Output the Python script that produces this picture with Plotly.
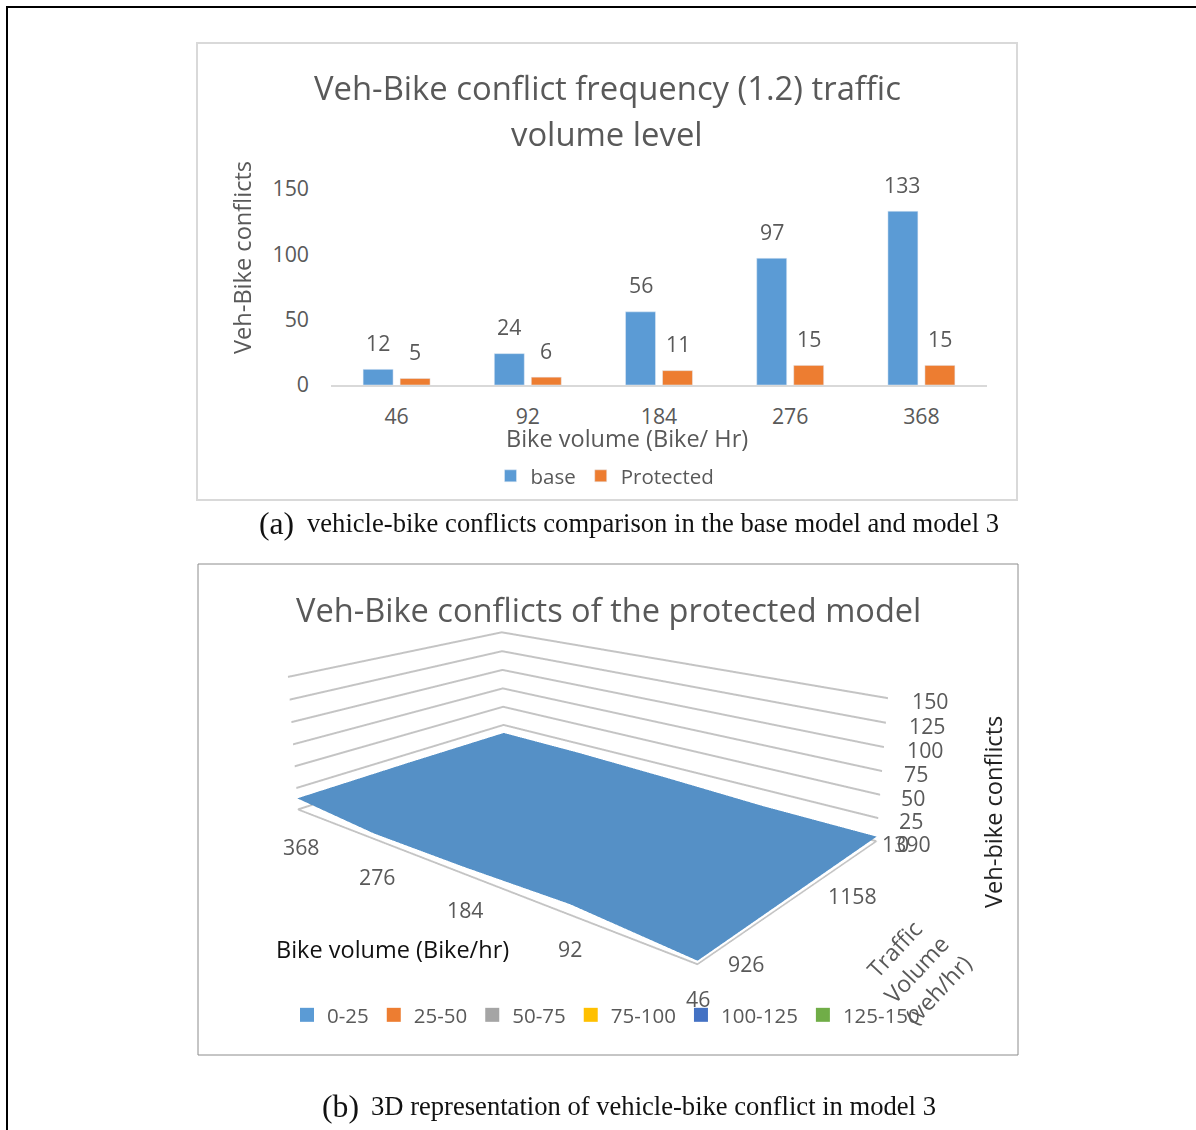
import plotly.graph_objects as go

W, H = 1196, 1130
FONT = "Open Sans"
GREY = "#595959"

# ---- panel (a) data
bike_volume = ["46", "92", "184", "276", "368"]
base_conflicts = [12, 24, 56, 97, 133]
protected_conflicts = [5, 6, 11, 15, 15]

# ---- panel (b) data
traffic_volume = ["926", "1158", "1390"]
surface_926 = [3, 10, 7, 6, 13]
surface_1158 = [4, 6, 11, 15, 14]
surface_1390 = [5, 6, 10, 13, 14]
band_names = ["0-25", "25-50", "50-75", "75-100", "100-125", "125-150"]
band_colors = ["#5B9BD5", "#ED7D31", "#A5A5A5", "#FFC000", "#4472C4", "#70AD47"]
z_ticks = ["150", "125", "100", "75", "50", "25", "0"]


def px(x):
    return x / W


def py(y):
    return 1 - y / H


def label(x, y, text, size=21.3, color=GREY, family=FONT, angle=0, **kw):
    return dict(x=px(x), y=py(y), xref="paper", yref="paper", text=text, showarrow=False,
                font=dict(size=size, color=color, family=family), textangle=angle,
                xanchor="center", yanchor="middle", **kw)


fig = go.Figure()
fig.add_bar(x=bike_volume, y=base_conflicts, name="base", marker_color=band_colors[0])
fig.add_bar(x=bike_volume, y=protected_conflicts, name="Protected", marker_color=band_colors[1])

# legend entries of panel (b)
for name, color in zip(band_names, band_colors):
    fig.add_scatter(x=[None], y=[None], mode="markers", name=name, legend="legend2",
                    marker=dict(symbol="square", size=14, color=color))

# band-coloured surface
scale = []
for i, c in enumerate(band_colors):
    scale += [[i / 6, c], [(i + 1) / 6, c]]
fig.add_surface(x=list(range(len(bike_volume))), y=list(range(len(traffic_volume))),
                z=[surface_926, surface_1158, surface_1390],
                colorscale=scale, cmin=0, cmax=150, showscale=False, opacity=1,
                lighting=dict(ambient=0.93, diffuse=0.14, specular=0, roughness=1, fresnel=0),
                lightposition=dict(x=200, y=-1000, z=500),
                contours=dict(x=dict(highlight=False), y=dict(highlight=False), z=dict(highlight=False)),
                scene="scene")

ann = [
    label(607, 88, "Veh-Bike conflict frequency (1.2) traffic", size=32.8),
    label(607, 133, "volume level", size=32.8),
    label(242, 258, "Veh-Bike conflicts", size=23.6, angle=-90),
    label(627, 438, "Bike volume (Bike/ Hr)", size=23.5),
    label(608, 609, "Veh-Bike conflicts of the protected model", size=32.6),
    label(993, 812, "Veh-bike conflicts", size=23.6, color="#222222", angle=-90),
    label(392, 949, "Bike volume (Bike/hr)", size=23.5, color="#111111"),
    label(916, 969, "Traffic<br>Volume<br>(veh/hr)", size=23, angle=-47),
    label(276, 523, "(a)", size=31.7, color="#111111", family="Liberation Serif"),
    label(653, 523, "vehicle-bike conflicts comparison in the base model and model 3", size=26.6, color="#111111", family="Liberation Serif"),
    label(340, 1106, "(b)", size=31.7, color="#111111", family="Liberation Serif"),
    label(653, 1106, "3D representation of vehicle-bike conflict in model 3", size=26.6, color="#111111", family="Liberation Serif"),
]
# data labels of panel (a)
for vals, shift in ((base_conflicts, -18.5), (protected_conflicts, 18.5)):
    for i, v in enumerate(vals):
        ann.append(dict(x=i, y=v, xref="x", yref="y", text=str(v), showarrow=False, xshift=shift, yshift=27,
                        yanchor="middle", font=dict(size=21.3, color=GREY, family=FONT)))
# axis labels of panel (b), kept where the reference prints them
for t, pos in zip(z_ticks, [(930, 700), (927, 725), (925, 749), (916, 773), (913, 797), (911, 820), (903, 843)]):
    ann.append(label(pos[0], pos[1], t))
for t, pos in zip(traffic_volume, [(746, 963), (852, 895), (906, 843)]):
    ann.append(label(pos[0], pos[1], t))
for t, pos in zip(bike_volume, [(698, 998), (570, 948), (465, 909), (377, 876), (301, 846)]):
    ann.append(label(pos[0], pos[1], t))

frame = [
    dict(type="rect", xref="paper", yref="paper", x0=px(197), x1=px(1017), y0=py(500), y1=py(43),
         line=dict(color="#d9d9d9", width=2), layer="below"),
    dict(type="rect", xref="paper", yref="paper", x0=px(198), x1=px(1018), y0=py(1055), y1=py(564),
         line=dict(color="#8c8c8c", width=1), layer="below"),
    dict(type="line", xref="paper", yref="paper", x0=px(7), x1=px(7), y0=0, y1=py(6), line=dict(color="black", width=2)),
    dict(type="line", xref="paper", yref="paper", x0=px(6), x1=1, y0=py(7), y1=py(7), line=dict(color="black", width=2)),
]

fig.update_layout(
    width=W, height=H, autosize=False, margin=dict(l=0, r=0, t=0, b=0, autoexpand=False),
    paper_bgcolor="white", plot_bgcolor="white",
    font=dict(family=FONT, color=GREY, size=21.3),
    barmode="group", bargap=0.436, bargroupgap=0.19,
    annotations=ann, shapes=frame,
    xaxis=dict(domain=[px(331), px(987)], anchor="y", type="category", range=[-0.5, 4.5], showgrid=False, zeroline=False,
               showline=True, linecolor="#d9d9d9", linewidth=2, ticks="", ticklabelstandoff=11,
               tickfont=dict(size=21.3, color=GREY)),
    yaxis=dict(domain=[py(385), py(189)], anchor="x", range=[0, 150], tickvals=[0, 50, 100, 150], showgrid=False,
               zeroline=False, showline=False, ticks="", ticklabelstandoff=21,
               tickfont=dict(size=21.3, color=GREY)),
    legend=dict(orientation="h", x=px(490.5), y=py(476), xanchor="left", yanchor="middle",
                font=dict(size=20.5, color=GREY), bgcolor="rgba(0,0,0,0)", tracegroupgap=0),
    legend2=dict(orientation="h", x=px(287), y=py(1015), xanchor="left", yanchor="middle",
                 font=dict(size=20.5, color=GREY), bgcolor="rgba(0,0,0,0)"),
    scene=dict(
        domain=dict(x=[px(176.33), px(976.33)], y=[0, 850 / H]),
        aspectmode="manual", aspectratio=dict(x=1, y=0.6183, z=0.2855),
        camera=dict(eye=dict(x=-1.2504, y=1.4742, z=0.6249), center=dict(x=0.0158, y=-0.0209, z=0.0997),
                    up=dict(x=0.1345, y=-0.1602, z=1), projection=dict(type="perspective")),
        bgcolor="rgba(0,0,0,0)",
        xaxis=dict(range=[0, 4], showgrid=False, showticklabels=False, title="", showbackground=False,
                   zeroline=False, showline=True, linecolor="#c4c4c4", linewidth=4, ticks="", showspikes=False),
        yaxis=dict(range=[2, 0], showgrid=False, showticklabels=False, title="", showbackground=False,
                   zeroline=False, showline=True, linecolor="#c4c4c4", linewidth=4, ticks="", showspikes=False),
        zaxis=dict(range=[0, 150], tickvals=[0, 25, 50, 75, 100, 125, 150], showgrid=True, gridcolor="#c4c4c4",
                   gridwidth=4, showticklabels=False, title="", showbackground=False, zeroline=False,
                   showline=False, ticks="", showspikes=False),
    ),
)

fig.write_html("out.html", config=dict(displayModeBar=False),
               post_script="document.body.style.margin='0';document.body.style.overflow='hidden';")
